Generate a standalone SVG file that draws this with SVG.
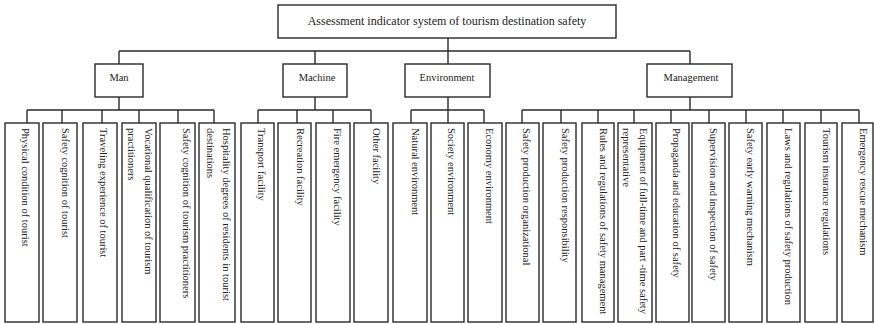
<svg xmlns="http://www.w3.org/2000/svg" width="874" height="324" viewBox="0 0 874 324">
<style>
.box{fill:#fff;stroke:#2a2a2a;stroke-width:1.4}
.ln{fill:none;stroke:#2a2a2a;stroke-width:1.4}
text{font-family:"Liberation Serif","Times New Roman",serif;fill:#222}
.t0{font-size:12px}
.t1{font-size:10.5px;text-anchor:middle}
.lf{font-size:10.5px}
</style>
<rect width="874" height="324" fill="#fff"/>
<g id="connectors">
<path class="ln" d="M448 38V64M119 51H690M119 51V64M315 51V64M690 51V64"/>
<path class="ln" d="M119 97V110M27 110H214M27 110V123M62 110V123M102 110V123M139 110V123M178 110V123M214 110V123"/>
<path class="ln" d="M315 97V110M258 110H371M258 110V123M297 110V123M333 110V123M371 110V123"/>
<path class="ln" d="M448 97V110M411 110H484M411 110V123M484 110V123M448 110V123"/>
<path class="ln" d="M690 97V110M522 110H859M522 110V123M561 110V123M598 110V123M634 110V123M671 110V123M709 110V123M746 110V123M783 110V123M821 110V123M859 110V123"/>
</g>
<g id="root"><rect class="box" x="278" y="5" width="338" height="33"/><text class="t0" x="447" y="25" text-anchor="middle">Assessment indicator system of tourism destination safety</text></g>
<g id="man"><rect class="box" x="95" y="64" width="48" height="33"/><text class="t1" x="119" y="81">Man</text></g>
<g id="machine"><rect class="box" x="283" y="64" width="64" height="33"/><text class="t1" x="317" y="81">Machine</text></g>
<g id="environment"><rect class="box" x="405" y="64" width="85" height="33"/><text class="t1" x="447" y="81">Environment</text></g>
<g id="management"><rect class="box" x="647" y="64" width="85" height="33"/><text class="t1" x="691" y="81">Management</text></g>

<g id="l1"><rect class="box" x="5" y="123" width="34" height="199"/><text class="lf" transform="translate(22,128) rotate(90)">Physical condition of tourist</text></g>
<g id="l2"><rect class="box" x="43" y="123" width="34" height="199"/><text class="lf" transform="translate(62,128) rotate(90)">Safety cognition of tourist</text></g>
<g id="l3"><rect class="box" x="83" y="123" width="34" height="199"/><text class="lf" transform="translate(100,128) rotate(90)">Traveling experience of tourist</text></g>
<g id="l4"><rect class="box" x="122" y="123" width="34" height="199"/><text class="lf" transform="translate(145,128) rotate(90)">Vocational qualification of tourism</text><text class="lf" transform="translate(128,128) rotate(90)">practitioners</text></g>
<g id="l5"><rect class="box" x="160" y="123" width="35" height="199"/><text class="lf" transform="translate(183,128) rotate(90)">Safety cognition of tourism practitioners</text></g>
<g id="l6"><rect class="box" x="199" y="123" width="36" height="199"/><text class="lf" transform="translate(223,128) rotate(90)">Hospitality degrees of residents in tourist</text><text class="lf" transform="translate(207,128) rotate(90)">destinations</text></g>

<g id="l7"><rect class="box" x="241" y="123" width="33" height="199"/><text class="lf" transform="translate(258,128) rotate(90)">Transport facility</text></g>
<g id="l8"><rect class="box" x="278" y="123" width="33" height="199"/><text class="lf" transform="translate(297,128) rotate(90)">Recreation facility</text></g>
<g id="l9"><rect class="box" x="316" y="123" width="34" height="199"/><text class="lf" transform="translate(334,128) rotate(90)">Fire emergency facility</text></g>
<g id="l10"><rect class="box" x="354" y="123" width="34" height="199"/><text class="lf" transform="translate(373,128) rotate(90)">Other facility</text></g>

<g id="l11"><rect class="box" x="393" y="123" width="34" height="199"/><text class="lf" transform="translate(412,128) rotate(90)">Natural environment</text></g>
<g id="l12"><rect class="box" x="431" y="123" width="33" height="199"/><text class="lf" transform="translate(448,128) rotate(90)">Society environment</text></g>
<g id="l13"><rect class="box" x="468" y="123" width="34" height="199"/><text class="lf" transform="translate(486,128) rotate(90)">Economy environment</text></g>

<g id="l14"><rect class="box" x="506" y="123" width="33" height="199"/><text class="lf" transform="translate(523,128) rotate(90)">Safety production organizational</text></g>
<g id="l15"><rect class="box" x="543" y="123" width="33" height="199"/><text class="lf" transform="translate(562,128) rotate(90)">Safety production responsibility</text></g>
<g id="l16"><rect class="box" x="582" y="123" width="32" height="199"/><text class="lf" transform="translate(600,128) rotate(90)">Rules and regulations of safety management</text></g>
<g id="l17"><rect class="box" x="618" y="123" width="34" height="199"/><text class="lf" transform="translate(640,128) rotate(90)">Equipment of full-time and part -time safety</text><text class="lf" transform="translate(623,128) rotate(90)">representative</text></g>
<g id="l18"><rect class="box" x="656" y="123" width="33" height="199"/><text class="lf" transform="translate(673,128) rotate(90)">Propaganda and education of safety</text></g>
<g id="l19"><rect class="box" x="692" y="123" width="33" height="199"/><text class="lf" transform="translate(710,128) rotate(90)">Supervision and inspection of safety</text></g>
<g id="l20"><rect class="box" x="729" y="123" width="33" height="199"/><text class="lf" transform="translate(747,128) rotate(90)">Safety early warning mechanism</text></g>
<g id="l21"><rect class="box" x="767" y="123" width="33" height="199"/><text class="lf" transform="translate(785,128) rotate(90)">Laws and regulations of safety production</text></g>
<g id="l22"><rect class="box" x="805" y="123" width="32" height="199"/><text class="lf" transform="translate(823,128) rotate(90)">Tourism insurance regulations</text></g>
<g id="l23"><rect class="box" x="842" y="123" width="31" height="199"/><text class="lf" transform="translate(860,128) rotate(90)">Emergency rescue mechanism</text></g>
</svg>
